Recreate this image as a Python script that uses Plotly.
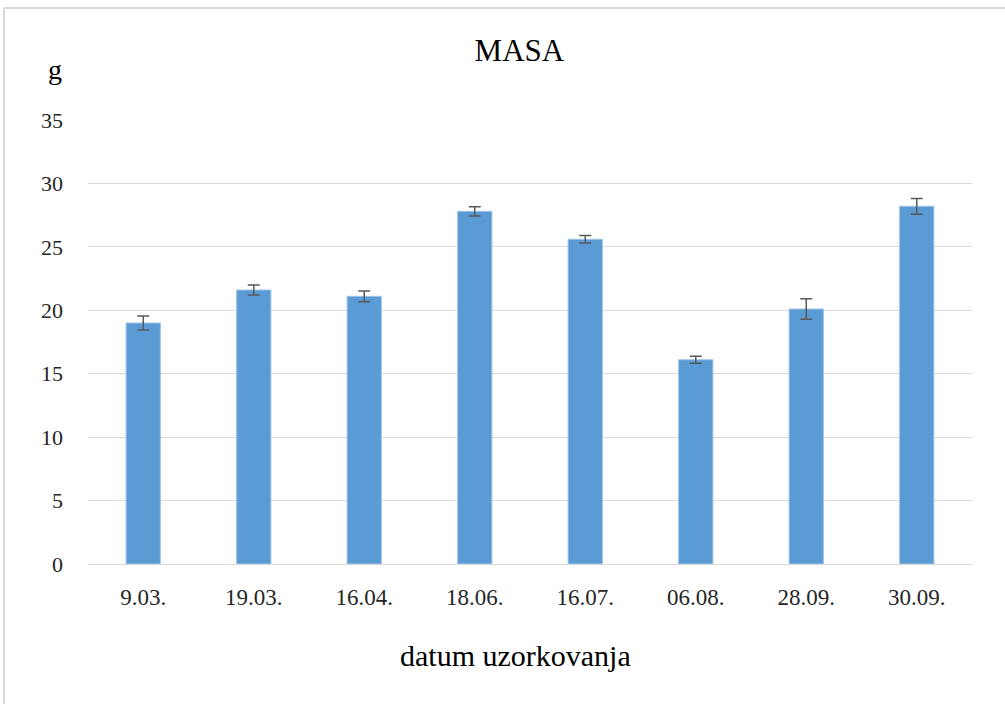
import plotly.graph_objects as go

categories = ["9.03.", "19.03.", "16.04.", "18.06.", "16.07.", "06.08.", "28.09.", "30.09."]
masa_values = [19.0, 21.6, 21.1, 27.8, 25.6, 16.1, 20.1, 28.2]
masa_errors = [0.55, 0.4, 0.42, 0.37, 0.3, 0.28, 0.8, 0.62]
y_ticks = [0, 5, 10, 15, 20, 25, 30, 35]

FONT = "Liberation Serif, Times New Roman, serif"

fig = go.Figure()
fig.add_trace(go.Bar(
    x=categories,
    y=masa_values,
    marker=dict(color="#5b9bd5", line=dict(color="#9dc3e6", width=1)),
    error_y=dict(type="data", array=masa_errors, visible=True,
                 color="#595959", thickness=1.5, width=6),
))

fig.update_layout(
    width=1005, height=704,
    margin=dict(l=88, r=33, t=120, b=140),
    paper_bgcolor="white", plot_bgcolor="white",
    bargap=0.69,
    showlegend=False,
    font=dict(family=FONT, color="#262626"),
    title=dict(text="MASA", x=0.488, xref="paper", xanchor="center",
               y=1 - 50 / 704, yref="container", yanchor="middle",
               font=dict(family=FONT, size=31, color="black")),
    xaxis=dict(showgrid=False, showline=True, linecolor="#d9d9d9", linewidth=1,
               ticks="", tickfont=dict(family=FONT, size=23, color="#262626"),
               ticklabelstandoff=12),
    yaxis=dict(range=[0, 35], tickvals=y_ticks, showgrid=True, gridcolor="#d9d9d9",
               gridwidth=1, zeroline=False, showline=False, ticks="",
               tickfont=dict(family=FONT, size=22, color="#262626"),
               ticklabelstandoff=24),
)

fig.add_annotation(text="g", xref="paper", yref="paper", x=-0.037, y=1.113,
                   showarrow=False, font=dict(family=FONT, size=28, color="black"),
                   xanchor="center", yanchor="middle")
fig.add_annotation(text="datum uzorkovanja", xref="paper", yref="paper", x=0.484, y=-0.205,
                   showarrow=False, font=dict(family=FONT, size=30, color="black"),
                   xanchor="center", yanchor="middle")

# outer frame (top and left edges visible)
fig.add_shape(type="line", xref="paper", yref="paper", x0=-0.095, x1=1.04, y0=1.252, y1=1.252,
              line=dict(color="#d9d9d9", width=2))
fig.add_shape(type="line", xref="paper", yref="paper", x0=-0.095, x1=-0.095, y0=1.252, y1=-0.32,
              line=dict(color="#d9d9d9", width=2))

fig.write_html("out.html", config={"displayModeBar": False},
               post_script="document.body.style.margin='0px';")
